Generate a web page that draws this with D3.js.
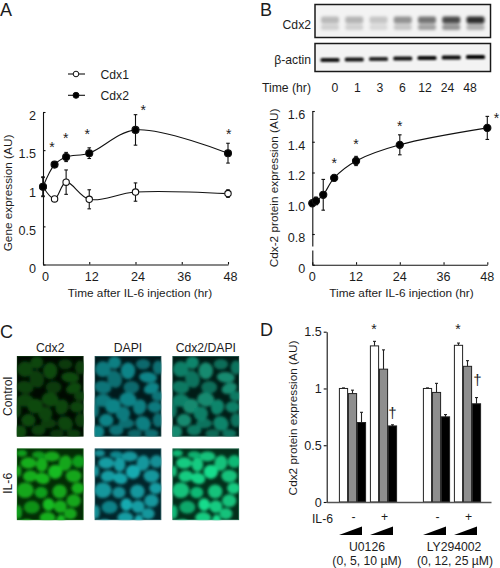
<!DOCTYPE html>
<html><head><meta charset="utf-8">
<script src="https://cdnjs.cloudflare.com/ajax/libs/d3/7.8.5/d3.min.js"></script>
<style>html,body{margin:0;background:#fff}svg{display:block}text{font-family:"Liberation Sans",Arial,sans-serif;fill:#1c1c1c}</style>
</head><body><svg id="c" width="500" height="568"></svg>
<script>
// Panel A
const timesA=[0,3,6,12,24,48];
const cdx1=[1.02,0.86,1.08,0.855,0.95,0.93];
const cdx1Err=[0.13,0.03,0.16,0.125,0.12,0.05];
const cdx2=[1.02,1.31,1.41,1.46,1.765,1.46];
const cdx2Err=[0.12,0.03,0.06,0.07,0.2,0.13];
const starsAT=[2.3,5.9,11.5,26,48.2];
const starsAV=[1.6,1.71,1.77,2.08,1.77];
const ticksAX=[0,12,24,36,48];
const ticksAY=[0,0.5,1,1.5,2];
// Panel B
const lanes=["0","1","3","6","12","24","48"];
const bandUpper=[.24,.26,.19,.40,.52,.70,.82];
const bandLower=[.15,.15,.11,.19,.34,.40,.28];
const bandActin=[.92,.92,.85,.93,.97,.97,1];
const timesB=[0,1,3,6,12,24,48];
const protB=[1.0,1.015,1.055,1.165,1.275,1.38,1.49];
const protBErr=[0.01,0.025,0.1,0.012,0.03,0.065,0.075];
const starsBT=[6,12,24,50.5];
const starsBV=[1.29,1.41,1.53,1.58];
const ticksBX=[0,12,24,36,48];
const ticksBY=[0,0.8,1,1.2,1.4,1.6];
// Panel C: cell nuclei [x,y,rx,ry,angle,level]
const cellsControl=[[30,40,22,22,0,.9],[105,45,20,24,0,1],[65,70,20,25,-20,.8],[30,95,24,18,10,.85],[115,95,22,18,0,.75],[175,98,22,15,-20,1],[165,65,25,15,5,1],[150,25,20,15,0,.75],[195,35,15,20,0,.8],[30,135,24,18,0,.9],[105,132,24,20,10,1],[195,122,18,14,0,.85],[60,152,22,20,-30,1],[140,155,18,22,20,.95],[185,155,20,16,0,.9],[90,175,20,20,0,.9],[40,195,20,18,0,1],[100,205,22,14,0,.8],[150,205,22,20,30,.95],[195,195,15,20,0,.8],[70,225,20,15,0,.85],[15,230,18,18,0,1],[125,235,20,12,0,.7],[175,235,20,12,0,.8],[65,20,18,18,0,.95],[8,165,10,20,0,.8]];
const cellsIL6=[[40,45,22,16,0,.9],[80,50,16,20,0,.9],[120,72,20,20,0,1],[150,45,18,22,10,.85],[190,40,18,18,0,.8],[110,25,22,14,0,.85],[45,85,20,16,-10,.9],[82,92,20,16,15,.95],[175,85,22,18,0,.85],[10,70,8,16,0,.85],[30,128,24,22,0,.85],[78,135,18,16,0,.8],[133,132,20,20,0,.85],[188,122,18,16,0,.9],[50,180,22,18,0,.7],[100,172,16,18,0,1],[135,178,18,18,0,.9],[175,160,20,18,0,.85],[165,200,18,16,0,.85],[97,212,22,16,0,.9],[137,222,12,18,0,1],[35,232,20,14,0,.9],[187,240,20,12,0,.85],[70,20,18,10,0,.75],[20,15,15,10,0,.8],[10,195,10,20,0,.8],[65,235,12,12,0,.8]];
const imageCols=["Cdx2","DAPI","Cdx2/DAPI"];
const imageRows=["Control","IL-6"];
// Panel D
const doses=["low","mid","high"];
const conditions=["U-","U+","L-","L+"];
const barValues=[[1.0,.955,.70],[1.375,1.17,.67],[1.0,.965,.75],[1.38,1.195,.865]];
const barErrors=[[.005,.03,.09],[.04,.17,.01],[.005,.08,.02],[.02,.05,.055]];
const ticksDY=[0,0.5,1,1.5];
const ilSigns=["-","+","-","+"];
const starsDV=[1.53,1.53];
const dagDV=[0.74,1.03];

const svg=d3.select("#c");
const defs=svg.append("defs");
[["b2",1.5],["b1",1.8],["b07",0.9]].forEach(([id,s])=>defs.append("filter").attr("id",id).attr("x","-50%").attr("y","-100%").attr("width","200%").attr("height","300%").append("feGaussianBlur").attr("stdDeviation",s));
const FS=11.8, TICK=12.6;
function txt(x,y,s,o={}){return svg.append("text").attr("x",x).attr("y",y).attr("font-size",o.fs||FS).attr("text-anchor",o.a||"middle").attr("transform",o.r?`rotate(${o.r} ${x} ${y})`:null).text(s);}
function styleAxis(g,fs=TICK){g.selectAll(".domain,.tick line").attr("stroke","#111").attr("stroke-width",1.1);g.selectAll("text").attr("font-size",fs).attr("fill","#1c1c1c").style("font-family",'"Liberation Sans",Arial,sans-serif');}
[["A",0,16.3],["B",260,16.3],["C",0,338],["D",260,336]].forEach(d=>txt(d[1],d[2],d[0],{a:"start",fs:18}));

// A
const xA=d3.scaleLinear().domain([0,48]).range([43,228]);
const yA=d3.scaleLinear().domain([0,2]).range([264.5,112]);
svg.append("g").attr("transform","translate(0,264.5)").call(d3.axisBottom(xA).tickValues(ticksAX).tickSizeInner(-2.5).tickSizeOuter(0).tickPadding(7.5).tickFormat(d3.format("d"))).call(styleAxis).selectAll("text").attr("dx",2);
svg.append("g").attr("transform","translate(43,0)").call(d3.axisLeft(yA).tickValues(ticksAY).tickSizeInner(-2.5).tickSizeOuter(0).tickPadding(7).tickFormat(d=>String(d))).call(styleAxis).selectAll("text").attr("dy","0.62em");
txt(11.5,193,"Gene expression (AU)",{r:-90});
txt(140,297,"Time after IL-6 injection (hr)");
function series(xS,yS,ts,vals,errs,fill,r){
  const line=d3.line().curve(d3.curveCatmullRom.alpha(0.5)).x((d,i)=>xS(ts[i])).y(d=>yS(d));
  svg.append("path").attr("d",line(vals)).attr("fill","none").attr("stroke","#111").attr("stroke-width",1.1);
  const eb=svg.append("g").attr("stroke","#111").attr("stroke-width",1.1);
  vals.forEach((v,i)=>{const x=xS(ts[i]);
    eb.append("line").attr("x1",x).attr("x2",x).attr("y1",yS(v-errs[i])).attr("y2",yS(v+errs[i]));
    [v-errs[i],v+errs[i]].forEach(e=>eb.append("line").attr("x1",x-1.8).attr("x2",x+1.8).attr("y1",yS(e)).attr("y2",yS(e)));});
  svg.append("g").selectAll("circle").data(vals).join("circle").attr("cx",(d,i)=>xS(ts[i])).attr("cy",d=>yS(d)).attr("r",r).attr("fill",fill).attr("stroke","#111").attr("stroke-width",1.1);
}
series(xA,yA,timesA,cdx1,cdx1Err,"#fff",3.2);
series(xA,yA,timesA,cdx2,cdx2Err,"#000",3.5);
[["Cdx1",74,"#fff"],["Cdx2",95.3,"#000"]].forEach(d=>{
  svg.append("line").attr("x1",68).attr("x2",85).attr("y1",d[1]).attr("y2",d[1]).attr("stroke","#111").attr("stroke-width",1.1);
  svg.append("circle").attr("cx",76).attr("cy",d[1]).attr("r",d[2]=="#fff"?2.8:3).attr("fill",d[2]).attr("stroke","#111");
  txt(100.5,d[1]+4.5,d[0],{a:"start",fs:12.2});
});
starsAT.forEach((t,i)=>txt(xA(t),yA(starsAV[i])+9,"*",{fs:14}));

// B blots
const laneX=d3.scalePoint().domain(lanes).range([330,475.5]);
const actinY=d3.scaleLinear().domain([0,6]).range([60,57]);
const frames=[[4.5,33],[43.5,28]];
frames.forEach(f=>svg.append("rect").attr("x",315).attr("y",f[0]).attr("width",175.5).attr("height",f[1]).attr("fill","#f3f3f3"));
const gB=svg.append("g").attr("filter","url(#b1)");
lanes.forEach((l,i)=>{
  gB.append("rect").attr("x",laneX(l)-9).attr("y",16.5).attr("width",18).attr("height",7).attr("rx",2).attr("fill","#000").attr("opacity",bandUpper[i]);
  gB.append("rect").attr("x",laneX(l)-9).attr("y",24.5).attr("width",18).attr("height",5.5).attr("rx",2).attr("fill","#000").attr("opacity",bandLower[i]);
});
const gA=svg.append("g").attr("filter","url(#b07)");
lanes.forEach((l,i)=>gA.append("rect").attr("x",laneX(l)-9.5).attr("y",actinY(i)-2).attr("width",19).attr("height",4).attr("rx",1.5).attr("fill","#000").attr("opacity",bandActin[i]));
frames.forEach(f=>svg.append("rect").attr("x",315).attr("y",f[0]).attr("width",175.5).attr("height",f[1]).attr("fill","none").attr("stroke","#1a1a1a").attr("stroke-width",1.5));
txt(311,29,"Cdx2",{a:"end",fs:12.2});
txt(311,64,"β-actin",{a:"end",fs:12.2});
txt(311,92,"Time (hr)",{a:"end",fs:12.2});
const labelX=d3.scalePoint().domain(lanes).range([335,470]);
lanes.forEach(l=>txt(labelX(l),92,l,{fs:12.2}));

// B chart
const xB=d3.scaleLinear().domain([0,48]).range([312.3,487.3]);
const yB=d3.scaleLinear().domain([0,0.8,1.6]).range([264.7,234,111]);
svg.append("g").attr("transform","translate(0,264.7)").call(d3.axisBottom(xB).tickValues(ticksBX).tickSizeInner(-2.5).tickSizeOuter(0).tickPadding(7.5).tickFormat(d3.format("d"))).call(styleAxis).selectAll("text").attr("dx",-0.5);
svg.append("g").attr("transform","translate(312.3,0)").call(d3.axisLeft(yB).tickValues(ticksBY).tickSizeInner(-2.5).tickSizeOuter(0).tickPadding(7).tickFormat(d=>d===0?"0":d.toFixed(1))).call(styleAxis).selectAll("text").attr("dy","0.58em");
svg.append("rect").attr("x",310).attr("y",246.5).attr("width",5).attr("height",4).attr("fill","#fff");
txt(277.7,188,"Cdx-2 protein expression (AU)",{r:-90});
txt(401.5,297,"Time after IL-6 injection (hr)");
series(xB,yB,timesB,protB,protBErr,"#000",3.6);
starsBT.forEach((t,i)=>txt(xB(t),yB(starsBV[i])+9,"*",{fs:14}));

// C
const colLeft=d3.scalePoint().domain(imageCols).range([16.7,172.3]);
const rowBox={"Control":[356,80.7],"IL-6":[448.3,72]};
const palettes={
 "Control":{"Cdx2":["#000a01","#0a4a10","#1a5a1e"],"DAPI":["#011a1c","#108488","#4f9a9c"],"Cdx2/DAPI":["#011c16","#128a70","#4a9a8c"]},
 "IL-6":{"Cdx2":["#032c05","#14bc20","#2aa82e"],"DAPI":["#02242a","#16aab0","#70c0c4"],"Cdx2/DAPI":["#032e1a","#14dc8c","#60d0a8"]}};
const imgW=67;
imageRows.forEach((row,ri)=>{
  const [top,h]=rowBox[row];
  const cells=ri===0?cellsControl:cellsIL6;
  const sx=d3.scaleLinear().domain([5,205]).range([0,imgW]);
  const sy=d3.scaleLinear().domain([0,ri===0?245:220]).range([0,h]);
  imageCols.forEach((col,ci)=>{
    const x=colLeft(col),pal=palettes[row][col],id=`clip${ri}${ci}`;
    defs.append("clipPath").attr("id",id).append("rect").attr("width",imgW).attr("height",h);
    const g=svg.append("g").attr("transform",`translate(${x},${top})`).attr("clip-path",`url(#${id})`);
    g.append("rect").attr("width",imgW).attr("height",h).attr("fill",pal[0]);
    g.append("g").attr("filter","url(#b2)").selectAll("ellipse").data(cells).join("ellipse")
      .attr("rx",d=>sx(d[2]+5)*1.08).attr("ry",d=>sy(d[3])*1.08)
      .attr("transform",d=>`translate(${sx(d[0])},${sy(d[1])}) rotate(${d[4]})`)
      .attr("fill",pal[1]).attr("opacity",d=>d[5]);
    g.append("rect").attr("x",.5).attr("y",.5).attr("width",imgW-1).attr("height",h-1).attr("fill","none").attr("stroke",pal[2]).attr("stroke-width",1).attr("opacity",.4);
    if(ri===0) txt(x+imgW/2,351.7,col,{fs:12.2});
  });
  txt(11.7,top+h/2+(ri===0?0:-1),row,{r:-90,fs:12.2});
});

// D
const yD=d3.scaleLinear().domain([0,1.5]).range([502,331.7]);
const groupX=d3.scaleOrdinal().domain(conditions).range([339,370,423,454]);
const doseX=d3.scaleBand().domain(doses).range([0,27]);
const fills=["#fff","#8e8e8e","#000"];
conditions.forEach((c,ci)=>{
  const g=svg.append("g").attr("transform",`translate(${groupX(c)},0)`);
  doses.forEach((d,di)=>{
    const v=barValues[ci][di],e=barErrors[ci][di],cx=doseX(d)+doseX.bandwidth()/2;
    g.append("line").attr("x1",cx).attr("x2",cx).attr("y1",yD(v)).attr("y2",yD(v+e)).attr("stroke","#222").attr("stroke-width",1.1);
    g.append("line").attr("x1",cx-1.5).attr("x2",cx+1.5).attr("y1",yD(v+e)).attr("y2",yD(v+e)).attr("stroke","#222").attr("stroke-width",1.1);
    g.append("rect").attr("x",doseX(d)+.4).attr("y",yD(v)).attr("width",doseX.bandwidth()-.8).attr("height",yD(0)-yD(v)).attr("fill",fills[di]).attr("stroke","#222").attr("stroke-width",1);
  });
  const L=groupX(c);
  svg.append("path").attr("d",d3.line()([[L,535],[L+23,526.5],[L+23,535]])).attr("fill","#000");
  txt(L+14.5,521,ilSigns[ci],{fs:12.2});
});
const xAxD=d3.scaleLinear().domain([0,1]).range([326.7,491]);
svg.append("g").attr("transform","translate(0,502)").call(d3.axisBottom(xAxD).tickValues([]).tickSizeOuter(0)).call(styleAxis).select(".domain").attr("stroke","#555").attr("stroke-width",1.4);
svg.append("g").attr("transform","translate(326.7,0)").call(d3.axisLeft(yD).tickValues(ticksDY).tickSizeInner(3).tickSizeOuter(0).tickPadding(2).tickFormat(d=>String(d))).call(styleAxis);
txt(297,418,"Cdx2 protein expression (AU)",{r:-90});
txt(333,523,"IL-6",{a:"end",fs:12.2});
[[374,"U+"],[458,"L+"]].forEach((s,i)=>txt(s[0],yD(starsDV[i])+6,"*",{fs:14}));
[[392.3,"U+"],[477.3,"L+"]].forEach((s,i)=>txt(s[0],yD(dagDV[i]),"†",{fs:15}));
txt(367,551,"U0126",{fs:12.2});txt(367,565,"(0, 5, 10 µM)",{fs:12.2});
txt(454,551,"LY294002",{fs:12.2});txt(455,565,"(0, 12, 25 µM)",{fs:12.2});
</script></body></html>
